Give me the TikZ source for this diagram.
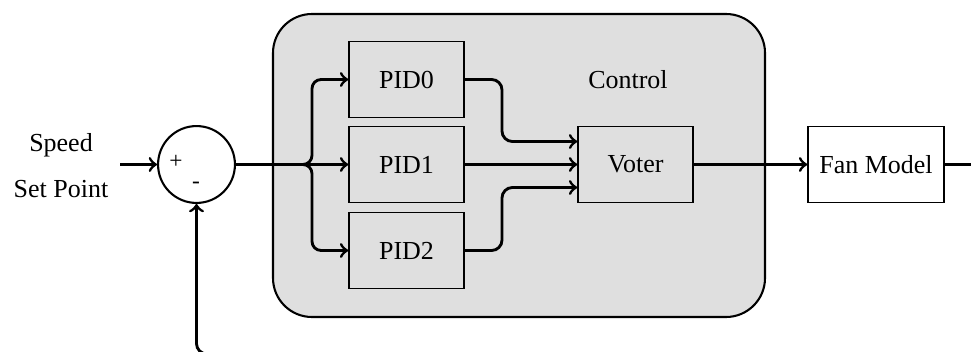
\documentclass[tikz,border=0pt]{standalone}
\usepackage{fontspec}
\setmainfont{Liberation Serif}
\definecolor{ctrlfill}{RGB}{223,223,223}
\begin{document}
\begin{tikzpicture}[x=0.385pt,y=-0.385pt,
    block/.style={draw, line width=0.6pt, inner sep=0pt,
      minimum width=44.3pt, minimum height=29.3pt, font=\fontsize{10}{12}\selectfont},
    sumnode/.style={draw, circle, line width=0.8pt, minimum size=29.6pt, inner sep=0pt},
    conn/.style={->, line width=1.1pt},
    lbl/.style={font=\fontsize{10}{12}\selectfont, inner sep=0pt}]
  \useasboundingbox (0,0) rectangle (971,352);
  \clip (0,0) rectangle (971,352);

  % control group background
  \draw[fill=ctrlfill, line width=0.8pt, rounded corners=15pt] (273,14) rectangle (765,317);
  \node[lbl] (ctrl) at (628,80) {Control};

  % summing junction
  \node[sumnode] (sum) at (196.5,164.5) {};
  \node[lbl, font=\fontsize{9}{11}\selectfont] (plus) at (176,162) {+};
  \node[lbl, font=\fontsize{9}{11}\selectfont] (minus) at (196,185) {-};

  % input label
  \node[lbl] (speed) at (61,145) {Speed};
  \node[lbl] (setpt) at (61,189) {Set Point};
  \coordinate (in) at (120,164.5);

  % controller blocks
  \node[block] (pid0) at (406.5,79.5) {PID0};
  \node[block] (pid1) at (406.5,164.5) {PID1};
  \node[block] (pid2) at (406.5,250.5) {PID2};
  \node[block] (voter) at (635.5,164.5) {Voter};
  \node[block, minimum width=52.4pt] (fan) at (876,164.5) {Fan Model};

  \coordinate (bx) at (312,164.5);
  \coordinate (v0) at ([yshift=8.85pt]voter.west);
  \coordinate (v2) at ([yshift=-8.85pt]voter.west);
  \coordinate (mx) at (502,164.5);
  \coordinate (loop) at (990,354);

  % connectors
  \draw[conn] (in) -- (sum.west);
  \draw[conn, rounded corners=3.5pt] (sum.east) -- (bx) |- (pid0.west);
  \draw[conn] (sum.east) -- (pid1.west);
  \draw[conn, rounded corners=3.5pt] (sum.east) -- (bx) |- (pid2.west);
  \draw[conn, rounded corners=4pt] (pid0.east) -| (mx |- v0) -- (v0);
  \draw[conn] (pid1.east) -- (voter.west);
  \draw[conn, rounded corners=4pt] (pid2.east) -| (mx |- v2) -- (v2);
  \draw[conn] (voter.east) -- (fan.west);
  \draw[conn, rounded corners=4pt] (fan.east) -| (loop) -| (sum.south);
\end{tikzpicture}
\end{document}
